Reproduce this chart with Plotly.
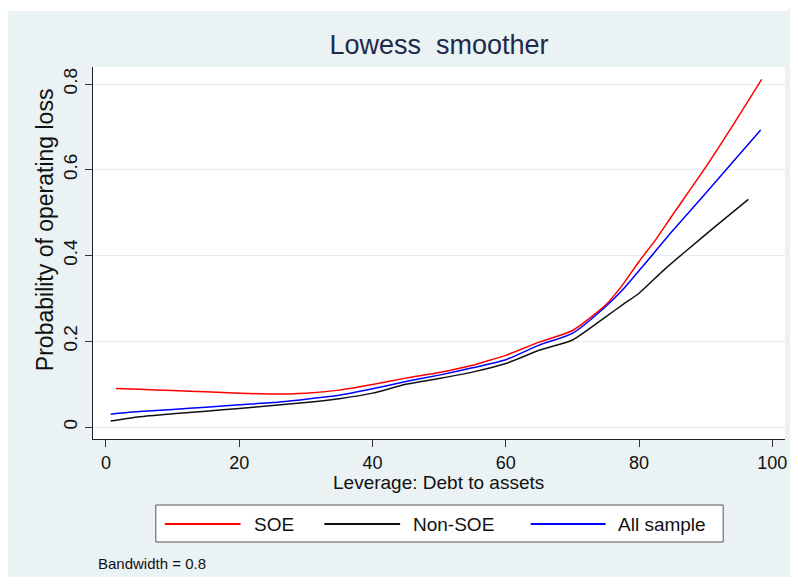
import plotly.graph_objects as go

# ---- data ----
soe_x = [1.5, 5, 10, 15, 20, 25, 30, 35, 40, 45, 50, 55, 57, 60, 65, 70, 75, 77.5, 80, 82.5, 85, 90, 94.5, 98.4]
soe_y = [0.090, 0.088, 0.085, 0.082, 0.079, 0.077, 0.079, 0.086, 0.099, 0.114, 0.127, 0.144, 0.153, 0.167,
         0.198, 0.225, 0.285, 0.331, 0.386, 0.437, 0.494, 0.606, 0.714, 0.811]

nonsoe_x = [0.7, 5, 10, 15, 20, 25, 30, 35, 40, 45, 50, 55, 60, 65, 70, 75, 77.5, 80, 83.7, 87, 91, 96.4]
nonsoe_y = [0.014, 0.024, 0.031, 0.037, 0.043, 0.050, 0.057, 0.066, 0.079, 0.0995, 0.113, 0.128, 0.148,
            0.179, 0.203, 0.257, 0.285, 0.312, 0.366, 0.41, 0.462, 0.531]

all_x = [0.7, 5, 10, 15, 20, 25, 30, 35, 40, 45, 50, 55, 60, 65, 70, 75, 77.5, 80.4, 85, 90, 94, 98.25]
all_y = [0.030, 0.036, 0.041, 0.046, 0.052, 0.057, 0.065, 0.074, 0.089, 0.106, 0.121, 0.138, 0.157,
         0.191, 0.2185, 0.281, 0.3195, 0.372, 0.457, 0.545, 0.617, 0.693]

series_names = ["SOE", "Non-SOE", "All sample"]
series_colors = ["#FF0000", "#111111", "#0000FF"]

x_ticks = [0, 20, 40, 60, 80, 100]
y_ticks = [0, 0.2, 0.4, 0.6, 0.8]
y_tick_text = ["0", "0.2", "0.4", "0.6", "0.8"]

title_text = "Lowess  smoother"
x_title = "Leverage: Debt to assets"
y_title = "Probability of operating loss"
note_text = "Bandwidth = 0.8"

# ---- layout geometry (screen pixels; page body has an 8px margin) ----
OFF = 8
W, H = 782, 569
SL, ST, SR, SB = 93, 67, 787, 439          # plot area on screen
PW, PH = SR - SL, SB - ST
BG = "#EAF2F3"
FONT = "Arial, Liberation Sans, sans-serif"


def px2x(sx):
    return (sx - SL) / PW


def px2y(sy):
    return (SB - sy) / PH


fig = go.Figure()
for xs, ys, name, col in zip([soe_x, nonsoe_x, all_x], [soe_y, nonsoe_y, all_y], series_names, series_colors):
    fig.add_trace(go.Scatter(x=xs, y=ys, mode="lines", name=name,
                             line=dict(color=col, width=1.5, shape="spline", smoothing=0.6),
                             showlegend=False))

shapes = [
    # thin white strip at the very top like the reference
    dict(type="rect", xref="paper", yref="paper", x0=px2x(OFF), x1=px2x(OFF + W), y0=px2y(11), y1=px2y(OFF),
         fillcolor="white", line=dict(width=0), layer="below"),
    # legend box
    dict(type="rect", xref="paper", yref="paper", x0=px2x(156), x1=px2x(725), y0=px2y(542), y1=px2y(505),
         fillcolor="white", line=dict(color="#555555", width=1), layer="above"),
]

annotations = [
    dict(text=y_title, xref="paper", yref="paper", x=px2x(45), y=px2y(230), textangle=-90,
         showarrow=False, xanchor="center", yanchor="middle", font=dict(family=FONT, size=23, color="#111111")),
    dict(text=x_title, xref="paper", yref="paper", x=px2x(439), y=px2y(483),
         showarrow=False, xanchor="center", yanchor="middle", font=dict(family=FONT, size=19, color="#111111")),
    dict(text=note_text, xref="paper", yref="paper", x=px2x(96), y=px2y(563),
         showarrow=False, xanchor="left", yanchor="middle", font=dict(family=FONT, size=15, color="#111111")),
]

# manual legend (long line samples like the reference)
leg_line_x = [(165, 241), (325, 401), (532, 607)]
leg_text_x = [252, 412, 618]
for (a, b), tx, name, col in zip(leg_line_x, leg_text_x, series_names, series_colors):
    shapes.append(dict(type="line", xref="paper", yref="paper", x0=px2x(a), x1=px2x(b),
                       y0=px2y(524), y1=px2y(524), line=dict(color=col, width=2), layer="above"))
    annotations.append(dict(text=name, xref="paper", yref="paper", x=px2x(tx), y=px2y(524),
                            showarrow=False, xanchor="left", yanchor="middle",
                            font=dict(family=FONT, size=19, color="#111111")))

fig.update_layout(
    width=W, height=H,
    margin=dict(l=SL - OFF, r=W - (SR - OFF), t=ST - OFF, b=H - (SB - OFF)),
    paper_bgcolor=BG,
    plot_bgcolor="white",
    title=dict(text=title_text, x=(439 - OFF) / W, xref="container", xanchor="center",
               y=1 - (45 - OFF) / H, yref="container", yanchor="middle",
               font=dict(family=FONT, size=27, color="#1E2A4A")),
    shapes=shapes,
    annotations=annotations,
    xaxis=dict(range=[-1.95, 101.9], tickvals=x_ticks, ticks="outside", ticklen=7, tickcolor="#333333",
               showline=True, linecolor="#222222", linewidth=1, showgrid=False, zeroline=False,
               tickfont=dict(family=FONT, size=18, color="#111111")),
    yaxis=dict(range=[-0.028, 0.8397], tickvals=y_ticks, ticktext=y_tick_text, ticks="outside", ticklen=7,
               tickcolor="#333333", tickangle=-90,
               showline=True, linecolor="#222222", linewidth=1, showgrid=True, gridcolor="#E4ECED",
               gridwidth=1, zeroline=False,
               tickfont=dict(family=FONT, size=19, color="#111111")),
)

fig.write_html("out.html")
